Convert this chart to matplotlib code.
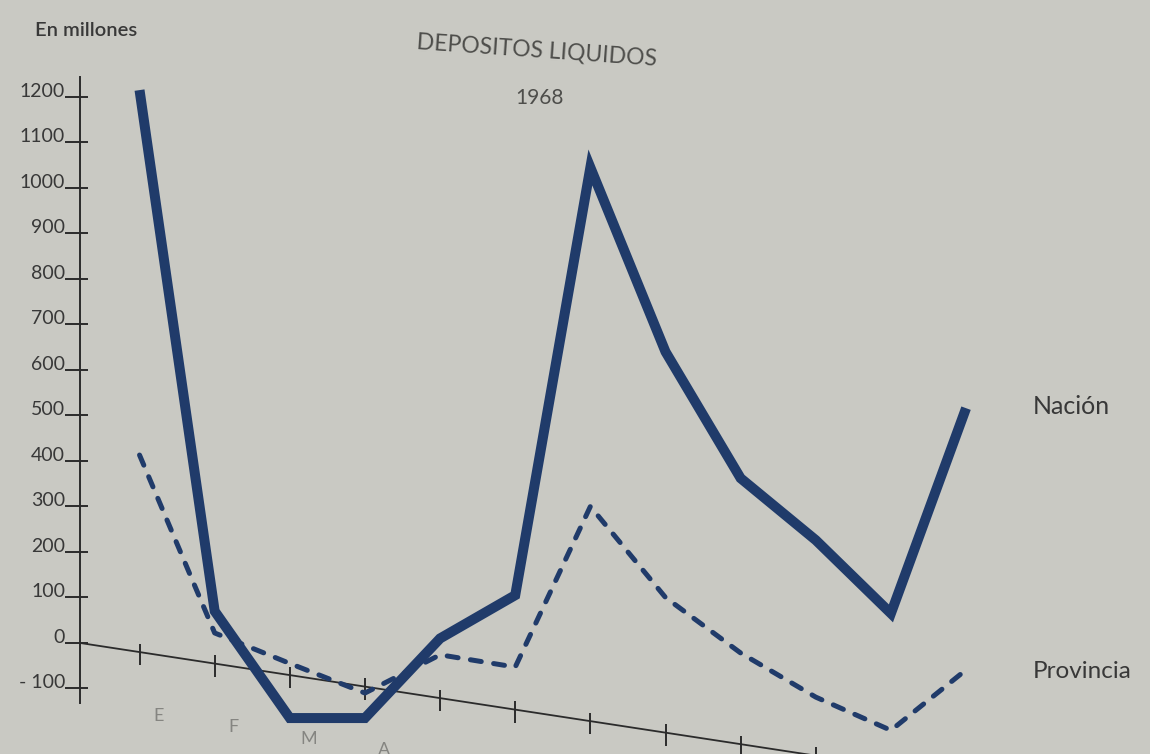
import numpy as np
import matplotlib
matplotlib.use("Agg")
import matplotlib.pyplot as plt

# Depositos liquidos 1968, en millones
meses = ["E", "F", "M", "A", "M", "J", "J", "A", "S", "O", "N", "D"]
nacion = [1215, 70, -165, -165, 10, 105, 1045, 640, 362, 226, 65, 516]
provincia = [413, 22, -45, -110, -26, -53, 300, 100, -22, -119, -192, -59]
yticks = [1200, 1100, 1000, 900, 800, 700, 600, 500, 400, 300, 200, 100, 0, -100]
ylabels = [str(v) for v in yticks[:-1]] + ["- 100"]

fondo = "#c9c9c3"
tinta = "#2b2b2b"
azul = "#203b6a"
fuente = ["Lato", "DejaVu Sans"]

x = np.arange(len(meses))

fig = plt.figure(figsize=(11.5, 7.54), dpi=100, facecolor=fondo)
ax = fig.add_axes([0, 0, 1, 1])
ax.set_facecolor(fondo)
ymin = -244
ax.set_xlim(-1.857, 13.448)
ax.set_ylim(ymin, 1413)
ax.axis("off")

# eje vertical
x_eje = -0.79
ax.plot([x_eje, x_eje], [-132, 1244], color=tinta, lw=1.4)
ax.hlines(yticks, x_eje - 0.2, x_eje + 0.105, color=tinta, lw=1.4)
for v, lab in zip(yticks, ylabels):
    ax.text(x_eje - 0.2, v, lab, ha="right", va="baseline", fontsize=14,
            color="#383838", family=fuente)

# eje horizontal inclinado (como en el original)
caida = 25.3
def base(xx):
    return -caida * (np.asarray(xx) - x_eje)

xs = np.array([x_eje, 13.5])
ax.plot(xs, base(xs), color=tinta, lw=1.3)
ax.vlines(x, base(x) - 29, base(x) + 18, color=tinta, lw=1.4)
for xi, m in zip(x, meses):
    ym = base(xi) - 140
    if ym > ymin:  # el resto queda fuera del recorte de la foto
        ax.text(xi + 0.25, ym, m, ha="center", va="center",
                fontsize=13, color="#858581", family=fuente)

# series
ax.plot(x, nacion, color=azul, lw=7.2, solid_joinstyle="miter",
        solid_capstyle="butt")
ax.plot(x, provincia, color=azul, lw=3.6, linestyle=(0, (2.2, 2.5)),
        dash_capstyle="round", dash_joinstyle="round")

# textos
fig.text(35 / 1150, 1 - 30 / 754, "En millones", ha="left", va="center",
         fontsize=14.5, weight="semibold", color="#383838", family=fuente)
fig.text(537 / 1150, 1 - 50 / 754, "DEPOSITOS LIQUIDOS", ha="center",
         va="center", rotation=-4, rotation_mode="anchor", fontsize=16.5,
         color="#4e4e4b", family=fuente)
fig.text(539 / 1150, 1 - 98 / 754, "1968", ha="center", va="center",
         fontsize=15, color="#4e4e4b", family=fuente)
fig.text(1033 / 1150, 1 - 406 / 754, "Nación", ha="left", va="center",
         fontsize=18, color="#383838", family=fuente)
fig.text(1033 / 1150, 1 - 672 / 754, "Provincia", ha="left", va="center",
         fontsize=17.5, color="#383838", family=fuente)

fig.savefig("out.png", dpi=100, facecolor=fondo)
